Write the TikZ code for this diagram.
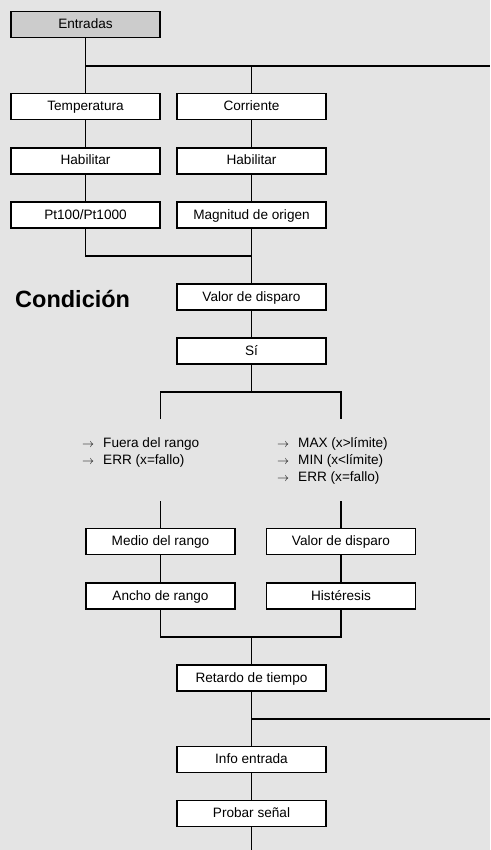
\documentclass[tikz,border=0pt]{standalone}
\usepackage{fontspec}
\setmainfont{Liberation Sans}
\usetikzlibrary{positioning}
\definecolor{bggray}{HTML}{E4E4E4}
\definecolor{headgray}{HTML}{CCCCCC}
\tikzset{
  menubox/.style={draw, line width=1.8pt, fill=white, minimum width=149pt, minimum height=26pt, inner sep=0pt, text height=10.5pt, text depth=2.5pt, font=\fontsize{13.6}{16}\selectfont},
  headbox/.style={menubox, fill=headgray},
  branch/.style={line width=1.8pt},
  optlist/.style={anchor=base west, inner sep=0pt, font=\fontsize{13.6}{17}\selectfont},
  bigtitle/.style={anchor=west, inner sep=0pt, font=\fontsize{23.5}{28}\selectfont\bfseries}
}
\newcommand{\optarrow}{\makebox[21pt][l]{\fontsize{13}{13}\selectfont$\rightarrow$}}

\begin{document}
\begin{tikzpicture}[x=1pt, y=-1pt]
  \fill[bggray] (0,0) rectangle (490,850);
  \useasboundingbox (0,0) rectangle (490,850);
  % inputs
  \node[headbox] (entradas) at (85.5,24.5) {Entradas};
  \node[menubox] (temp) at (85.5,106.5) {Temperatura};
  \node[menubox] (corr) at (251.5,106.5) {Corriente};
  \node[menubox] (habT) at (85.5,161) {Habilitar};
  \node[menubox] (habC) at (251.5,161) {Habilitar};
  \node[menubox] (sensor) at (85.5,215) {Pt100/Pt1000};
  \node[menubox] (origen) at (251.5,215) {Magnitud de origen};
  % condition
  \node[bigtitle] (cond) at (15,299) {Condición};
  \node[menubox] (disparo) at (251.5,297) {Valor de disparo};
  \node[menubox] (si) at (251.5,351) {Sí};
  \node[optlist] (optL) at (82,447) {\begin{tabular}[t]{@{}l@{}}
    \optarrow Fuera del rango\\
    \optarrow ERR (x=fallo)\end{tabular}};
  \node[optlist] (optR) at (277,447) {\begin{tabular}[t]{@{}l@{}}
    \optarrow MAX (x>límite)\\
    \optarrow MIN (x<límite)\\
    \optarrow ERR (x=fallo)\end{tabular}};
  \node[menubox] (medio) at (160.5,541.5) {Medio del rango};
  \node[menubox] (valor) at (341,541.5) {Valor de disparo};
  \node[menubox] (ancho) at (160.5,596) {Ancho de rango};
  \node[menubox] (hist) at (341,596) {Histéresis};
  \node[menubox] (retardo) at (251.5,678) {Retardo de tiempo};
  \node[menubox] (info) at (251.5,759.5) {Info entrada};
  \node[menubox] (probar) at (251.5,813.5) {Probar señal};
  % free ends and joints
  \coordinate (outA) at (490,66);
  \coordinate (joinA) at (251.5,256);
  \coordinate (splitS) at (251.5,392);
  \coordinate (legL) at (160.5,419);
  \coordinate (legR) at (341,419);
  \coordinate (topL) at (160.5,501);
  \coordinate (topR) at (341,501);
  \coordinate (joinB) at (251.5,637);
  \coordinate (outB) at (490,719);
  \coordinate (outC) at (251.5,850);
  % connectors
  \draw[branch] (entradas) -- (temp);
  \draw[branch] (entradas |- outA) -- (outA);
  \draw[branch] (corr |- outA) -- (corr);
  \draw[branch] (temp) -- (habT);
  \draw[branch] (habT) -- (sensor);
  \draw[branch] (corr) -- (habC);
  \draw[branch] (habC) -- (origen);
  \draw[branch] (sensor) |- (joinA);
  \draw[branch] (origen) -- (disparo);
  \draw[branch] (disparo) -- (si);
  \draw[branch] (si) -- (splitS);
  \draw[branch] (legL) |- (splitS) -| (legR);
  \draw[branch] (topL) -- (medio);
  \draw[branch] (topR) -- (valor);
  \draw[branch] (medio) -- (ancho);
  \draw[branch] (valor) -- (hist);
  \draw[branch] (ancho) |- (joinB) -| (hist);
  \draw[branch] (joinB) -- (retardo);
  \draw[branch] (retardo) -- (info);
  \draw[branch] (retardo |- outB) -- (outB);
  \draw[branch] (info) -- (probar);
  \draw[branch] (probar) -- (outC);
\end{tikzpicture}
\end{document}
